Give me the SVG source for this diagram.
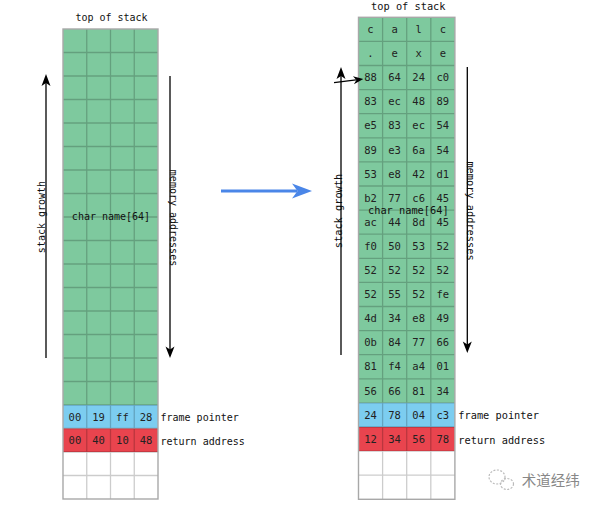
<svg xmlns="http://www.w3.org/2000/svg" width="600" height="507" viewBox="0 0 600 507">
<style>
.t{font-family:"DejaVu Sans Mono","Liberation Mono",monospace;font-size:10px;fill:#111}
.tr{font-family:"DejaVu Sans Mono","Liberation Mono",monospace;font-size:10.3px;fill:#111}
.c{font-family:"DejaVu Sans Mono","Liberation Mono",monospace;font-size:10.5px;fill:#222;text-anchor:middle}
.g{fill:#7ec99e}.b{fill:#7ccdf0}.r{fill:#e9444e}.w{fill:#fff}
.grid{fill:none;stroke:#000;stroke-opacity:0.2;stroke-width:1.3}
.out{fill:none;stroke:#a8a8a8;stroke-width:1.4}
.ax{stroke:#000;stroke-width:1.3;fill:none}
.ah{fill:#000}
</style>
<rect width="600" height="507" fill="#fff"/>
<g id="left-stack">
<rect class="g" x="63" y="29" width="95" height="376"/>
<rect class="b" x="63" y="405" width="95" height="23.5"/>
<rect class="r" x="63" y="428.5" width="95" height="23.5"/>
<rect class="w" x="63" y="452" width="95" height="47"/>
<path class="grid" d="M86.75,29V499M110.5,29V499M134.25,29V499M63,52.5H158M63,76H158M63,99.5H158M63,123H158M63,146.5H158M63,170H158M63,193.5H158M63,217H158M63,240.5H158M63,264H158M63,287.5H158M63,311H158M63,334.5H158M63,358H158M63,381.5H158M63,405H158M63,428.5H158M63,452H158M63,475.5H158"/>
<rect class="out" x="63" y="29" width="95" height="470"/>
<text class="t" x="111.5" y="20.5" text-anchor="middle">top of stack</text>
<text class="t" x="111" y="220" text-anchor="middle">char name[64]</text>
<text class="c" x="74.9" y="420.5">00</text><text class="c" x="98.6" y="420.5">19</text><text class="c" x="122.4" y="420.5">ff</text><text class="c" x="146.1" y="420.5">28</text>
<text class="c" x="74.9" y="444">00</text><text class="c" x="98.6" y="444">40</text><text class="c" x="122.4" y="444">10</text><text class="c" x="146.1" y="444">48</text>
<text class="t" x="160.5" y="420.5">frame pointer</text>
<text class="t" x="160.5" y="445">return address</text>
</g>
<g id="right-stack">
<rect class="g" x="358.5" y="17.3" width="96.4" height="385.6"/>
<rect class="b" x="358.5" y="402.9" width="96.4" height="24.1"/>
<rect class="r" x="358.5" y="427" width="96.4" height="24.1"/>
<rect class="w" x="358.5" y="451.1" width="96.4" height="48.2"/>
<path class="grid" d="M382.6,17.3V499.3M406.7,17.3V499.3M430.8,17.3V499.3M358.5,41.4H454.9M358.5,65.5H454.9M358.5,89.6H454.9M358.5,113.7H454.9M358.5,137.8H454.9M358.5,161.9H454.9M358.5,186H454.9M358.5,210.1H454.9M358.5,234.2H454.9M358.5,258.3H454.9M358.5,282.4H454.9M358.5,306.5H454.9M358.5,330.6H454.9M358.5,354.7H454.9M358.5,378.8H454.9M358.5,402.9H454.9M358.5,427H454.9M358.5,451.1H454.9M358.5,475.2H454.9"/>
<rect class="out" x="358.5" y="17.3" width="96.4" height="482"/>
<text class="tr" x="408.3" y="9.5" text-anchor="middle">top of stack</text>
<g>
<text class="c" x="370.5" y="33">c</text><text class="c" x="394.6" y="33">a</text><text class="c" x="418.7" y="33">l</text><text class="c" x="442.8" y="33">c</text>
<text class="c" x="370.5" y="57.1">.</text><text class="c" x="394.6" y="57.1">e</text><text class="c" x="418.7" y="57.1">x</text><text class="c" x="442.8" y="57.1">e</text>
<text class="c" x="370.5" y="81.2">88</text><text class="c" x="394.6" y="81.2">64</text><text class="c" x="418.7" y="81.2">24</text><text class="c" x="442.8" y="81.2">c0</text>
<text class="c" x="370.5" y="105.3">83</text><text class="c" x="394.6" y="105.3">ec</text><text class="c" x="418.7" y="105.3">48</text><text class="c" x="442.8" y="105.3">89</text>
<text class="c" x="370.5" y="129.4">e5</text><text class="c" x="394.6" y="129.4">83</text><text class="c" x="418.7" y="129.4">ec</text><text class="c" x="442.8" y="129.4">54</text>
<text class="c" x="370.5" y="153.5">89</text><text class="c" x="394.6" y="153.5">e3</text><text class="c" x="418.7" y="153.5">6a</text><text class="c" x="442.8" y="153.5">54</text>
<text class="c" x="370.5" y="177.6">53</text><text class="c" x="394.6" y="177.6">e8</text><text class="c" x="418.7" y="177.6">42</text><text class="c" x="442.8" y="177.6">d1</text>
<text class="c" x="370.5" y="201.7">b2</text><text class="c" x="394.6" y="201.7">77</text><text class="c" x="418.7" y="201.7">c6</text><text class="c" x="442.8" y="201.7">45</text>
<text class="c" x="370.5" y="225.8">ac</text><text class="c" x="394.6" y="225.8">44</text><text class="c" x="418.7" y="225.8">8d</text><text class="c" x="442.8" y="225.8">45</text>
<text class="c" x="370.5" y="249.9">f0</text><text class="c" x="394.6" y="249.9">50</text><text class="c" x="418.7" y="249.9">53</text><text class="c" x="442.8" y="249.9">52</text>
<text class="c" x="370.5" y="274">52</text><text class="c" x="394.6" y="274">52</text><text class="c" x="418.7" y="274">52</text><text class="c" x="442.8" y="274">52</text>
<text class="c" x="370.5" y="298.1">52</text><text class="c" x="394.6" y="298.1">55</text><text class="c" x="418.7" y="298.1">52</text><text class="c" x="442.8" y="298.1">fe</text>
<text class="c" x="370.5" y="322.2">4d</text><text class="c" x="394.6" y="322.2">34</text><text class="c" x="418.7" y="322.2">e8</text><text class="c" x="442.8" y="322.2">49</text>
<text class="c" x="370.5" y="346.3">0b</text><text class="c" x="394.6" y="346.3">84</text><text class="c" x="418.7" y="346.3">77</text><text class="c" x="442.8" y="346.3">66</text>
<text class="c" x="370.5" y="370.4">81</text><text class="c" x="394.6" y="370.4">f4</text><text class="c" x="418.7" y="370.4">a4</text><text class="c" x="442.8" y="370.4">01</text>
<text class="c" x="370.5" y="394.5">56</text><text class="c" x="394.6" y="394.5">66</text><text class="c" x="418.7" y="394.5">81</text><text class="c" x="442.8" y="394.5">34</text>
<text class="c" x="370.5" y="418.6">24</text><text class="c" x="394.6" y="418.6">78</text><text class="c" x="418.7" y="418.6">04</text><text class="c" x="442.8" y="418.6">c3</text>
<text class="c" x="370.5" y="442.7">12</text><text class="c" x="394.6" y="442.7">34</text><text class="c" x="418.7" y="442.7">56</text><text class="c" x="442.8" y="442.7">78</text>
</g>
<text class="tr" x="408.3" y="213.5" text-anchor="middle">char name[64]</text>
<text class="tr" x="458.3" y="418.5">frame pointer</text>
<text class="tr" x="458.3" y="443.5">return address</text>
</g>
<g id="labels">
<text class="t" transform="translate(45,217) rotate(-90)" text-anchor="middle">stack growth</text>
<text class="t" transform="translate(169.5,218) rotate(90)" text-anchor="middle">memory addresses</text>
<text class="tr" transform="translate(342,211) rotate(-90)" text-anchor="middle">stack growth</text>
<text class="tr" transform="translate(467,211) rotate(90)" text-anchor="middle">memory addresses</text>
</g>
<g id="connectors">
<path class="ax" d="M46,358V82"/>
<path class="ah" d="M46,74L50.5,86L46,83L41.5,86Z"/>
<path class="ax" d="M170,76V351"/>
<path class="ah" d="M170,358L174.5,346.5L170,349.5L165.5,346.5Z"/>
<path class="ax" d="M341,355V74"/>
<path class="ah" d="M341,67L345.5,79L341,76L336.5,79Z"/>
<path class="ax" d="M467.3,67V346"/>
<path class="ah" d="M467.3,353L471.8,341.5L467.3,344.5L462.8,341.5Z"/>
<path class="ax" d="M334,82.7L356,79.9"/>
<path class="ah" d="M363.3,79L353.9,84.2L356.4,79.9L352.9,76.3Z"/>
<path d="M221,191H297" stroke="#4a86e8" stroke-width="3" fill="none"/>
<path d="M312,191L292,183.5L297.5,191L292,198.5Z" fill="#4a86e8"/>
</g>
<g id="watermark">
<ellipse cx="497" cy="477" rx="8" ry="7" fill="none" stroke="#bbb" stroke-width="1.2" stroke-dasharray="2 1.5"/>
<ellipse cx="507" cy="484" rx="6.5" ry="5.5" fill="none" stroke="#bbb" stroke-width="1.2" stroke-dasharray="2 1.5"/>
<text x="521.7" y="486" font-family="'Noto Sans CJK SC',sans-serif" font-size="14.5" fill="#888">术道经纬</text>
</g>
</svg>
